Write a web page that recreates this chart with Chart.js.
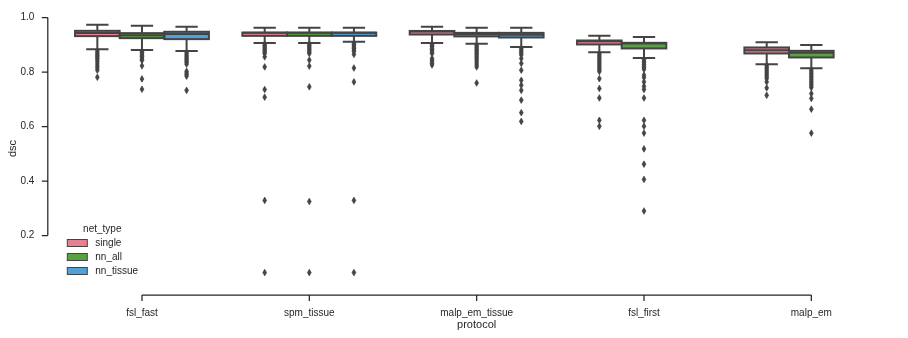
<!DOCTYPE html>
<html>
<head>
<meta charset="utf-8">
<script src="https://cdn.jsdelivr.net/npm/chart.js@4.4.1/dist/chart.umd.min.js"></script>
<style>
  html, body { margin: 0; padding: 0; background: #fff; }
  #wrap { width: 908px; height: 338px; }
</style>
</head>
<body>
<div id="wrap"><canvas id="myChart"></canvas></div>
<script>
const protocols = ["fsl_fast", "spm_tissue", "malp_em_tissue", "fsl_first", "malp_em"];
const netTypes = ["single", "nn_all", "nn_tissue"];
const yTicks = [0.2, 0.4, 0.6, 0.8, 1.0];

// box stats per protocol (whisker low, q1, median, q3, whisker high)
const singleLow = [0.884, 0.907, 0.907, 0.873, 0.829];
const singleQ1 = [0.932, 0.933, 0.938, 0.9015, 0.8684];
const singleMed = [0.9437, 0.944, 0.949, 0.913, 0.8805];
const singleQ3 = [0.9515, 0.945, 0.951, 0.916, 0.8904];
const singleHigh = [0.9735, 0.9625, 0.966, 0.933, 0.91];
const singleOut = [
  [0.878, 0.872, 0.866, 0.861, 0.856, 0.85, 0.845, 0.838, 0.83, 0.822, 0.815, 0.807, 0.781],
  [0.903, 0.898, 0.893, 0.888, 0.883, 0.878, 0.873, 0.868, 0.856, 0.819, 0.736, 0.708, 0.329, 0.064],
  [0.903, 0.898, 0.893, 0.888, 0.883, 0.878, 0.873, 0.868, 0.85, 0.844, 0.838, 0.832, 0.826],
  [0.868, 0.862, 0.856, 0.85, 0.844, 0.838, 0.832, 0.826, 0.82, 0.814, 0.808, 0.802, 0.776, 0.74, 0.705, 0.623, 0.601],
  [0.824, 0.818, 0.812, 0.806, 0.8, 0.794, 0.788, 0.782, 0.776, 0.764, 0.742, 0.715],
];

const nnAllLow = [0.881, 0.907, 0.904, 0.852, 0.814];
const nnAllQ1 = [0.9246, 0.933, 0.931, 0.8868, 0.8537];
const nnAllMed = [0.9357, 0.944, 0.94, 0.905, 0.871];
const nnAllQ3 = [0.943, 0.945, 0.944, 0.9074, 0.878];
const nnAllHigh = [0.97, 0.9625, 0.9625, 0.929, 0.899];
const nnAllOut = [
  [0.877, 0.872, 0.867, 0.862, 0.857, 0.852, 0.847, 0.843, 0.823, 0.775, 0.737],
  [0.903, 0.898, 0.893, 0.888, 0.883, 0.878, 0.873, 0.868, 0.844, 0.822, 0.746, 0.325, 0.064],
  [0.899, 0.894, 0.889, 0.884, 0.879, 0.874, 0.869, 0.864, 0.858, 0.852, 0.846, 0.84, 0.833, 0.826, 0.819, 0.76],
  [0.846, 0.84, 0.834, 0.828, 0.822, 0.816, 0.81, 0.789, 0.78, 0.764, 0.748, 0.736, 0.705, 0.623, 0.601, 0.576, 0.518, 0.462, 0.406, 0.29],
  [0.809, 0.803, 0.797, 0.791, 0.785, 0.779, 0.773, 0.767, 0.761, 0.755, 0.749, 0.743, 0.721, 0.703, 0.664, 0.576],
];

const nnTissueLow = [0.877, 0.911, 0.892, null, null];
const nnTissueQ1 = [0.921, 0.933, 0.927, null, null];
const nnTissueMed = [0.94, 0.944, 0.9375, null, null];
const nnTissueQ3 = [0.948, 0.945, 0.944, null, null];
const nnTissueHigh = [0.966, 0.9625, 0.9625, null, null];
const nnTissueOut = [
  [0.872, 0.866, 0.86, 0.855, 0.85, 0.845, 0.84, 0.835, 0.829, 0.803, 0.797, 0.791, 0.785, 0.733],
  [0.906, 0.901, 0.896, 0.891, 0.886, 0.881, 0.876, 0.865, 0.815, 0.764, 0.329, 0.064],
  [0.887, 0.881, 0.875, 0.869, 0.863, 0.85, 0.832, 0.807, 0.77, 0.752, 0.733, 0.697, 0.651, 0.619],
  [],
  [],
];

const colors = ["#e68193", "#58a141", "#51a1d9"];
const gray = "#444444";
const ink = "#262626";

Chart.defaults.font.family = "'Liberation Sans', Arial, sans-serif";
Chart.defaults.color = ink;

function makeSet(k, low, q1, med, q3, high, out) {
  return {
    label: netTypes[k],
    data: q1.map((v, i) => (v == null ? null : [q1[i], q3[i]])),
    backgroundColor: colors[k],
    borderWidth: 0,
    low, q1, med, q3, high, out,
  };
}

const datasets = [
  makeSet(0, singleLow, singleQ1, singleMed, singleQ3, singleHigh, singleOut),
  makeSet(1, nnAllLow, nnAllQ1, nnAllMed, nnAllQ3, nnAllHigh, nnAllOut),
  makeSet(2, nnTissueLow, nnTissueQ1, nnTissueMed, nnTissueQ3, nnTissueHigh, nnTissueOut),
];

function diamond(c, x, y) {
  c.beginPath();
  c.moveTo(x, y - 3.3);
  c.lineTo(x + 1.9, y);
  c.lineTo(x, y + 3.3);
  c.lineTo(x - 1.9, y);
  c.closePath();
  c.fill();
  c.stroke();
}

// whiskers, caps, box outline, medians, fliers
const boxParts = {
  id: "boxParts",
  afterDatasetsDraw(chart) {
    const c = chart.ctx;
    const ys = chart.scales.y;
    c.save();
    c.strokeStyle = gray;
    c.fillStyle = gray;
    chart.data.datasets.forEach((ds, di) => {
      const meta = chart.getDatasetMeta(di);
      meta.data.forEach((bar, i) => {
        if (ds.data[i] == null) return;
        const { x, width } = bar.getProps(["x", "width"], true);
        const l = x - width / 2;
        const yq1 = ys.getPixelForValue(ds.q1[i]);
        const yq3 = ys.getPixelForValue(ds.q3[i]);
        const ylo = ys.getPixelForValue(ds.low[i]);
        const yhi = ys.getPixelForValue(ds.high[i]);
        const ymed = ys.getPixelForValue(ds.med[i]);
        c.lineWidth = 2;
        c.beginPath();
        c.moveTo(x, yq3); c.lineTo(x, yhi);
        c.moveTo(x, yq1); c.lineTo(x, ylo);
        c.moveTo(x - width / 4, yhi); c.lineTo(x + width / 4, yhi);
        c.moveTo(x - width / 4, ylo); c.lineTo(x + width / 4, ylo);
        c.moveTo(l, ymed); c.lineTo(l + width, ymed);
        c.stroke();
        c.strokeRect(l, yq3, width, yq1 - yq3);
        c.lineWidth = 0.7;
        ds.out[i].forEach(v => diamond(c, x, ys.getPixelForValue(v)));
      });
    });
    c.restore();
  },
};

// offset, trimmed spines like seaborn despine(offset=10, trim=True)
const spines = {
  id: "spines",
  afterDraw(chart) {
    const c = chart.ctx;
    const { left, bottom } = chart.chartArea;
    const xs = chart.scales.x, ys = chart.scales.y;
    const sx = left - 10.5, sy = bottom + 10;
    c.save();
    c.strokeStyle = ink;
    c.lineWidth = 1.25;
    c.beginPath();
    c.moveTo(sx, ys.getPixelForValue(yTicks[0]));
    c.lineTo(sx, ys.getPixelForValue(yTicks[yTicks.length - 1]));
    yTicks.forEach(v => {
      const p = ys.getPixelForValue(v);
      c.moveTo(sx, p); c.lineTo(sx - 6, p);
    });
    const x0 = xs.getPixelForValue(0), x1 = xs.getPixelForValue(protocols.length - 1);
    c.moveTo(x0, sy); c.lineTo(x1, sy);
    protocols.forEach((p, i) => {
      const px = xs.getPixelForValue(i);
      c.moveTo(px, sy); c.lineTo(px, sy + 6);
    });
    c.stroke();

    // legend
    const lx = left + 9, by = bottom;
    c.font = "10px 'Liberation Sans', Arial, sans-serif";
    c.fillStyle = ink;
    c.textAlign = "center";
    c.textBaseline = "middle";
    c.fillText("net_type", lx + 35, by - 56);
    c.textAlign = "left";
    netTypes.forEach((t, k) => {
      const ty = by - 45.5 + k * 14;
      c.fillStyle = colors[k];
      c.fillRect(lx, ty, 20, 7);
      c.strokeStyle = gray;
      c.lineWidth = 1;
      c.strokeRect(lx, ty, 20, 7);
      c.fillStyle = ink;
      c.fillText(t, lx + 28, ty + 3.5);
    });
    c.restore();
  },
};

new Chart(document.getElementById("myChart"), {
  type: "bar",
  data: { labels: protocols, datasets },
  options: {
    responsive: true,
    maintainAspectRatio: false,
    animation: false,
    layout: { autoPadding: false, padding: { top: 12, right: 13, left: 0, bottom: 0 } },
    datasets: { bar: { categoryPercentage: 0.8, barPercentage: 1.0 } },
    scales: {
      x: {
        grid: { display: false, drawTicks: false },
        border: { display: false },
        ticks: { color: ink, font: { size: 10 }, padding: 22, maxRotation: 0, autoSkip: false },
        title: { display: true, text: "protocol", color: ink, font: { size: 11 }, padding: { top: 0, bottom: 6 } },
        afterFit: s => { s.height = 53; },
      },
      y: {
        min: 0.0184,
        max: 1.0206,
        grid: { display: false, drawTicks: false },
        border: { display: false },
        ticks: { color: ink, font: { size: 10 }, padding: 24, callback: v => v.toFixed(1) },
        afterBuildTicks: s => { s.ticks = yTicks.map(v => ({ value: v })); },
        title: { display: true, text: "dsc", color: ink, font: { size: 11 }, padding: { top: 6, bottom: 0 } },
        afterFit: s => { s.width = 58.3; s.paddingTop = 0; s.paddingBottom = 0; },
      },
    },
    plugins: {
      legend: { display: false },
      tooltip: { enabled: false },
    },
  },
  plugins: [boxParts, spines],
});
</script>
</body>
</html>
